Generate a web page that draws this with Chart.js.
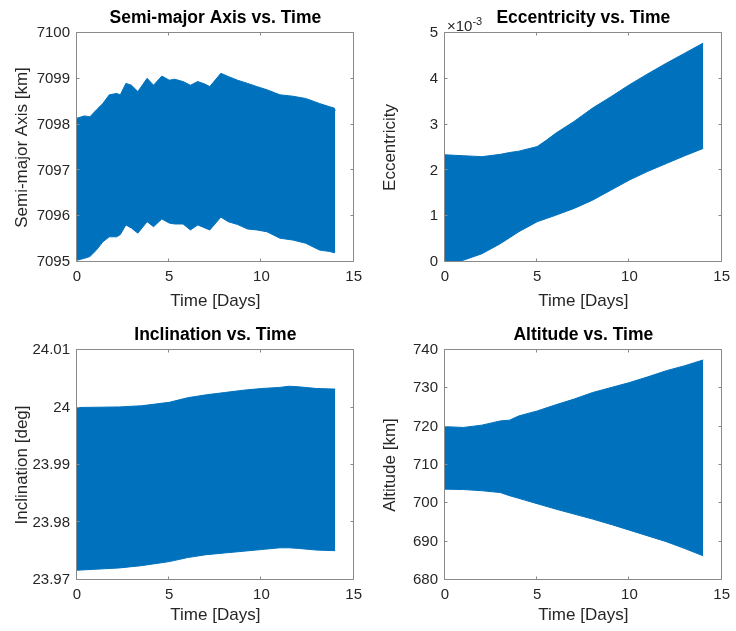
<!DOCTYPE html>
<html>
<head>
<meta charset="utf-8">
<script src="https://cdn.jsdelivr.net/npm/chart.js@4.4.1/dist/chart.umd.min.js"></script>
<style>
  body { margin: 0; background: #fff; }
  #fig { position: relative; width: 736px; height: 631px; }
  canvas { position: absolute; }
</style>
</head>
<body>
<div id="fig">
  <canvas id="sma" width="368" height="315" style="left:0;top:0"></canvas>
  <canvas id="ecc" width="368" height="315" style="left:368px;top:0"></canvas>
  <canvas id="inc" width="368" height="316" style="left:0;top:315px"></canvas>
  <canvas id="alt" width="368" height="316" style="left:368px;top:315px"></canvas>
</div>
<script>
// envelope of each oscillating signal (time in days)
const smaDays = [0, 0.4, 0.7, 1.05, 1.4, 1.75, 2.15, 2.35, 2.65, 2.95, 3.3, 3.8, 4.15, 4.6, 5.0, 5.3, 5.75,
  6.15, 6.55, 6.9, 7.2, 7.8, 8.2, 8.7, 9.25, 9.75, 10.3, 11.0, 11.7, 12.4, 13.15, 13.7, 13.95, 14.0];
const smaUpper = [7098.14, 7098.19, 7098.17, 7098.32, 7098.46, 7098.65, 7098.68, 7098.65, 7098.90, 7098.86,
  7098.72, 7099.01, 7098.86, 7099.06, 7098.97, 7098.99, 7098.94, 7098.86, 7098.94, 7098.89, 7098.83, 7099.12,
  7099.05, 7098.97, 7098.90, 7098.83, 7098.76, 7098.65, 7098.62, 7098.57, 7098.46, 7098.39, 7098.36, 7098.30];
const smaLower = [7095.04, 7095.08, 7095.12, 7095.26, 7095.44, 7095.55, 7095.55, 7095.60, 7095.81, 7095.74,
  7095.63, 7095.88, 7095.77, 7095.94, 7095.85, 7095.83, 7095.83, 7095.70, 7095.81, 7095.75, 7095.70, 7095.98,
  7095.88, 7095.82, 7095.72, 7095.70, 7095.66, 7095.52, 7095.48, 7095.41, 7095.26, 7095.23, 7095.20, 7095.22];

const eccDays = [0, 0.5, 1, 1.5, 2, 3, 3.5, 4, 5, 5.5, 6, 7, 8, 9, 10, 11, 12, 13, 14];
const eccUpper = [0.00234, 0.00233, 0.00232, 0.00231, 0.00230, 0.00235, 0.00239, 0.00242, 0.00252, 0.00266,
  0.00281, 0.00307, 0.00336, 0.00361, 0.00387, 0.00411, 0.00434, 0.00456, 0.00478];
const eccLower = [0, 0, 0.00004, 0.00011, 0.00018, 0.00040, 0.00053, 0.00066, 0.00088, 0.00095,
  0.00102, 0.00117, 0.00135, 0.00157, 0.00179, 0.00198, 0.00215, 0.00232, 0.00248];

const incDays = [0, 2.3, 3.5, 5, 6, 7, 8, 9, 10, 11, 11.5, 12, 13, 14];
const incUpper = [24.0000, 24.0001, 24.0003, 24.0009, 24.0017, 24.0022, 24.0026, 24.0030, 24.0033, 24.0035,
  24.0037, 24.0036, 24.0033, 24.0032];
const incLower = [23.9717, 23.9721, 23.9725, 23.9732, 23.9739, 23.9744, 23.9747, 23.9750, 23.9753, 23.9756,
  23.9756, 23.9755, 23.9752, 23.9751];

const altDays = [0, 1, 2, 3, 3.5, 4, 5, 6, 7, 8, 9, 10, 11, 12, 13, 14];
const altUpper = [720.0, 719.8, 720.4, 721.5, 721.7, 722.8, 724.1, 725.7, 727.2, 728.9, 730.2, 731.5, 733.0,
  734.6, 735.9, 737.4];
const altLower = [703.7, 703.6, 703.3, 702.8, 702.0, 701.3, 699.9, 698.5, 697.2, 695.9, 694.5, 693.0, 691.5,
  690.0, 688.2, 686.3];

const BLUE = '#0072BD';
const TXT = '#262626';
const FONT = "'Liberation Sans', Arial, Helvetica, sans-serif";

// matlab style box with inward ticks on all four sides
const matlabBox = {
  id: 'matlabBox',
  afterDatasetsDraw(chart) {
    const { ctx, chartArea: a, scales } = chart;
    const l = Math.round(a.left) - 0.5, r = Math.round(a.right) - 0.5;
    const t = Math.round(a.top) - 0.5, b = Math.round(a.bottom) - 0.5;
    ctx.save();
    ctx.strokeStyle = '#8a8a8a';
    ctx.lineWidth = 1;
    ctx.beginPath();
    ctx.rect(l, t, r - l, b - t);
    scales.x.ticks.forEach(tk => {
      const px = Math.round(scales.x.getPixelForValue(tk.value)) - 0.5;
      ctx.moveTo(px, b); ctx.lineTo(px, b - 3);
      ctx.moveTo(px, t); ctx.lineTo(px, t + 3);
    });
    scales.y.ticks.forEach(tk => {
      const py = Math.round(scales.y.getPixelForValue(tk.value)) - 0.5;
      ctx.moveTo(l, py); ctx.lineTo(l + 3, py);
      ctx.moveTo(r, py); ctx.lineTo(r - 3, py);
    });
    ctx.stroke();
    ctx.restore();
  }
};

// "x10^-3" multiplier above the eccentricity axis
const expLabel = {
  id: 'expLabel',
  afterDraw(chart, args, opts) {
    if (!opts.text) return;
    const { ctx, chartArea: a } = chart;
    ctx.save();
    ctx.fillStyle = TXT;
    ctx.textBaseline = 'alphabetic';
    ctx.font = '15px ' + FONT;
    ctx.fillText('\u00d710', a.left + 2, a.top - 2);
    const w = ctx.measureText('\u00d710').width;
    ctx.font = '11px ' + FONT;
    ctx.fillText(opts.text, a.left + 2 + w, a.top - 8);
    ctx.restore();
  }
};

function band(days, upper, lower) {
  return [
    { data: days.map((d, i) => ({ x: d, y: upper[i] })), borderColor: BLUE, backgroundColor: BLUE,
      borderWidth: 1, pointRadius: 0, fill: '+1' },
    { data: days.map((d, i) => ({ x: d, y: lower[i] })), borderColor: BLUE, backgroundColor: BLUE,
      borderWidth: 1, pointRadius: 0, fill: false }
  ];
}

function panel(id, title, ylabel, ymin, ymax, ystep, datasets, box, fmt, exp) {
  const el = document.getElementById(id);
  return new Chart(el, {
    type: 'line',
    data: { datasets },
    plugins: [matlabBox, expLabel],
    options: {
      responsive: false,
      animation: false,
      events: [],
      layout: { padding: { left: 0, top: 0, right: box.right, bottom: 0 } },
      plugins: {
        legend: { display: false },
        tooltip: { enabled: false },
        title: {
          display: true, text: title, fullSize: false, color: '#000',
          font: { family: FONT, size: 17.5, weight: 'bold', lineHeight: 1.2 },
          padding: { top: box.top - 25, bottom: 4 }
        },
        expLabel: { text: exp || '' }
      },
      scales: {
        x: {
          type: 'linear', min: 0, max: 15,
          grid: { display: false, drawTicks: false },
          border: { display: false },
          ticks: { stepSize: 5, color: TXT, padding: 6, maxRotation: 0, font: { family: FONT, size: 15 } },
          title: { display: true, text: 'Time [Days]', color: TXT, padding: box.xtp,
            font: { family: FONT, size: 17, lineHeight: 1.2 } },
          afterFit(s) { s.height = box.xh; }
        },
        y: {
          type: 'linear', min: ymin, max: ymax,
          grid: { display: false, drawTicks: false },
          border: { display: false },
          ticks: { stepSize: ystep, color: TXT, padding: 7, font: { family: FONT, size: 15 },
            callback: fmt },
          title: { display: true, text: ylabel, color: TXT, padding: 12,
            font: { family: FONT, size: 17, lineHeight: 1.2 } },
          afterFit(s) { s.width = 77; }
        }
      }
    }
  });
}

const plain = v => String(parseFloat(v.toFixed(4)));

panel('sma', 'Semi-major Axis vs. Time', 'Semi-major Axis [km]', 7095, 7100, 1,
  band(smaDays, smaUpper, smaLower), { right: 10, top: 33, xh: 53, xtp: 3 }, plain);
panel('ecc', 'Eccentricity vs. Time', 'Eccentricity', 0, 0.005, 0.001,
  band(eccDays, eccUpper, eccLower), { right: 9, top: 33, xh: 53, xtp: 3 }, v => String(Math.round(v * 1000)), '-3');
panel('inc', 'Inclination vs. Time', 'Inclination [deg]', 23.97, 24.01, 0.01,
  band(incDays, incUpper, incLower), { right: 10, top: 35, xh: 51, xtp: 5 }, plain);
panel('alt', 'Altitude vs. Time', 'Altitude [km]', 680, 740, 10,
  band(altDays, altUpper, altLower), { right: 9, top: 35, xh: 51, xtp: 5 }, plain);
</script>
</body>
</html>
